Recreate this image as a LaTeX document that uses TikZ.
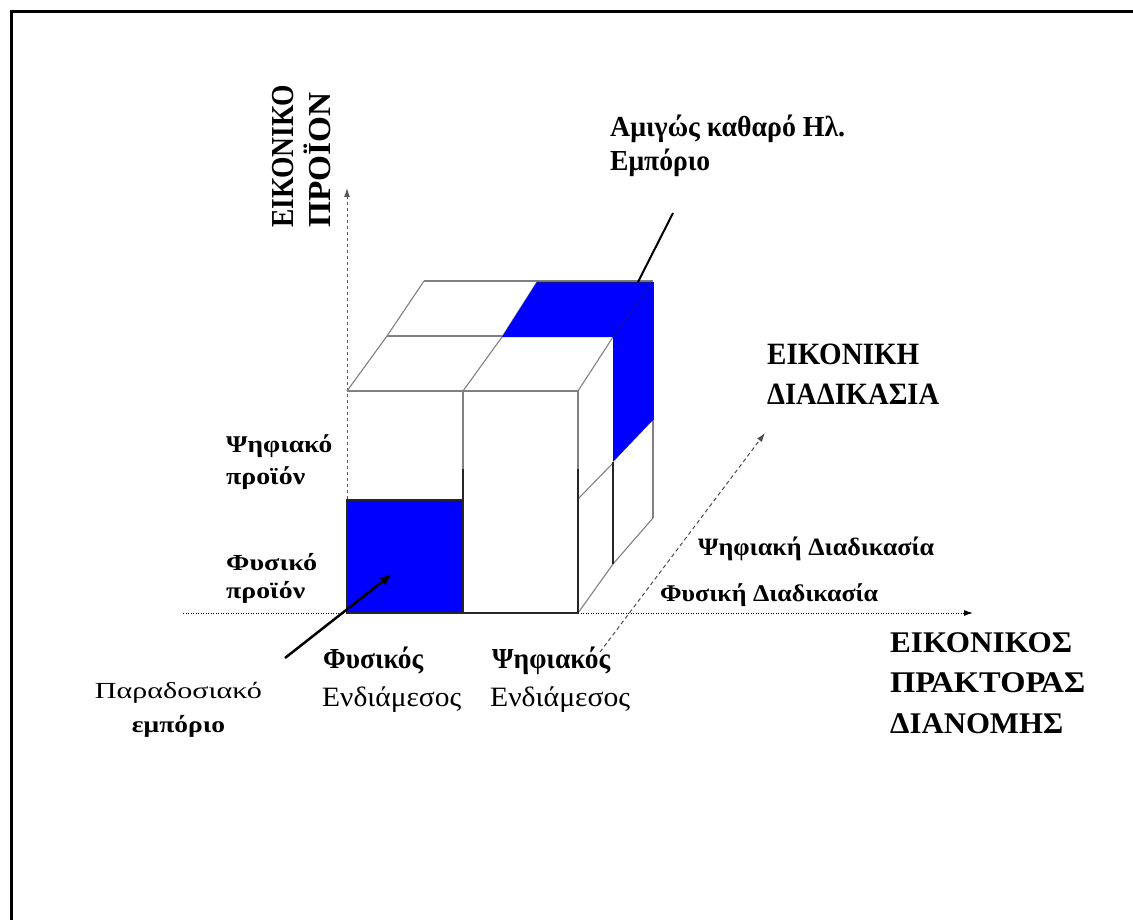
\documentclass[tikz,border=0pt]{standalone}
\usepackage{fontspec}
\setmainfont{Liberation Serif}
\usepackage{graphicx}
\usetikzlibrary{arrows.meta}
\newcommand\fitw[2]{\resizebox{#1pt}{\height}{#2}}
\definecolor{cubeblue}{RGB}{0,0,255}
\definecolor{cubeedge}{RGB}{20,20,150}
\begin{document}
\begin{tikzpicture}[x=1pt,y=-1pt,
  lbl/.style={inner sep=0pt, anchor=base west},
  lblc/.style={inner sep=0pt, anchor=base},
  fBig/.style={font=\bfseries\fontsize{31}{36}\selectfont},
  fRot/.style={font=\bfseries\fontsize{32}{36}\selectfont},
  fAx/.style={font=\bfseries\fontsize{30}{36}\selectfont},
  fPure/.style={font=\bfseries\fontsize{29}{34}\selectfont},
  fProd/.style={font=\bfseries\fontsize{24}{28}\selectfont},
  fProdB/.style={font=\bfseries\fontsize{23}{28}\selectfont},
  fProc/.style={font=\bfseries\fontsize{25}{28}\selectfont},
  fProcB/.style={font=\bfseries\fontsize{24}{28}\selectfont},
  fInt/.style={font=\bfseries\fontsize{29}{34}\selectfont},
  fIntR/.style={font=\fontsize{28}{34}\selectfont},
  fTrad/.style={font=\fontsize{23}{28}\selectfont},
  fTradB/.style={font=\bfseries\fontsize{23}{28}\selectfont},
  lt/.style={draw=black!50, line width=1.1pt},
  dk/.style={draw=black!85, line width=1.4pt},
  axisdash/.style={draw=black!65, line width=1pt, dash pattern=on 3pt off 3pt, -{Latex[length=9pt,width=6pt]}},
  axisdot/.style={draw=black, line width=1pt, dash pattern=on 1pt off 1.5pt, -{Latex[length=9pt,width=6pt]}},
  axisdiag/.style={draw=black!70, line width=1pt, dash pattern=on 4pt off 3pt, -{Latex[length=9pt,width=6pt]}},
  pointer/.style={draw=black, line width=2.5pt, -{Latex[length=12pt,width=10pt]}},
  leader/.style={draw=black, line width=2pt}]
\useasboundingbox (0,0) rectangle (1133,920);
% frame
\draw[line width=3pt] (1133,11.5) -- (11.5,11.5) -- (11.5,920);

% axes
\coordinate (O) at (347,613);
\coordinate (yTip) at (347,188);
\coordinate (xStart) at (183,613);
\coordinate (xTip) at (973,613);
\coordinate (zStart) at (600,652);
\coordinate (zTip) at (765,433);
\draw[axisdash] (O) -- (yTip);
\draw[axisdot] (xStart) -- (xTip);
\draw[axisdiag] (zStart) -- (zTip);

% cube: light lines
\draw[lt] (424,281) -- (653,281);
\draw[lt] (387,336) -- (613,336);
\draw[lt] (347,391) -- (578,391);
\draw[lt] (347,391) -- (387,336) -- (424,281);
\draw[lt] (463,391) -- (502,337) -- (537,282);
\draw[lt] (578,391) -- (613,337) -- (653,282);
\draw[lt] (463,391) -- (463,469);
\draw[lt] (578,391) -- (578,469);
\draw[lt] (578,499) -- (613,463);
\draw[lt] (653,420) -- (653,518);
\draw[lt] (578,613) -- (613,564) -- (653,518);

% blue cells
\fill[cubeblue] (347,500) rectangle (463,613);
\fill[cubeblue] (502,337) -- (537,282) -- (653,282) -- (653,420) -- (613,462) -- (613,337) -- cycle;
\draw[draw=cubeedge, line width=0.9pt] (537,282) -- (653,282) -- (653,420);
\draw[draw=cubeedge, line width=0.7pt] (613,337) -- (653,282);

% cube: dark lines
\draw[dk] (463,469) -- (463,613);
\draw[dk] (578,469) -- (578,613);
\draw[dk] (613,462) -- (613,564);
\draw[dk] (347,613) -- (578,613);
\draw[dk] (347,500) rectangle (463,613);

% pointers
\coordinate (tradStart) at (285,658);
\coordinate (tradEnd) at (392,574);
\draw[pointer] (tradStart) -- (tradEnd);
\coordinate (pureStart) at (673,213);
\coordinate (pureEnd) at (638,282);
\draw[leader] (pureStart) -- (pureEnd);

% labels
\node[lbl, fPure] (pure1) at (610,137) {\fitw{235}{Αμιγώς καθαρό Ηλ.}};
\node[lbl, fPure] (pure2) at (610,170.5) {\fitw{100}{Εμπόριο}};

\node[lbl, fRot, rotate=90] (yax1) at (293,228) {\fitw{143}{ΕΙΚΟΝΙΚΟ}};
\node[lbl, fRot, rotate=90] (yax2) at (330,228) {\fitw{135}{ΠΡΟΪΟΝ}};

\node[lbl, fBig] (zax1) at (767,364) {\fitw{152}{ΕΙΚΟΝΙΚΗ}};
\node[lbl, fBig] (zax2) at (767,404) {\fitw{172}{ΔΙΑΔΙΚΑΣΙΑ}};

\node[lbl, fAx] (xax1) at (890,652) {\fitw{182}{ΕΙΚΟΝΙΚΟΣ}};
\node[lbl, fAx] (xax2) at (890,692) {\fitw{195}{ΠΡΑΚΤΟΡΑΣ}};
\node[lbl, fAx] (xax3) at (890,733) {\fitw{173}{ΔΙΑΝΟΜΗΣ}};

\node[lbl, fProd] (dp1) at (226,452.5) {\fitw{106}{Ψηφιακό}};
\node[lbl, fProd] (dp2) at (226,484) {\fitw{79}{προϊόν}};
\node[lbl, fProdB] (pp1) at (226,570) {\fitw{91}{Φυσικό}};
\node[lbl, fProdB] (pp2) at (226,598.5) {\fitw{79}{προϊόν}};

\node[lbl, fProc] (dproc) at (698,555) {\fitw{236}{Ψηφιακή Διαδικασία}};
\node[lbl, fProcB] (pproc) at (660,601.5) {\fitw{218}{Φυσική Διαδικασία}};

\node[lbl, fInt] (pi1) at (323,668) {\fitw{100}{Φυσικός}};
\node[lbl, fIntR] (pi2) at (322,706.5) {\fitw{139}{Ενδιάμεσος}};
\node[lbl, fInt] (di1) at (492,668) {\fitw{118}{Ψηφιακός}};
\node[lbl, fIntR] (di2) at (490,706.5) {\fitw{140}{Ενδιάμεσος}};

\node[lblc, fTrad] (trad1) at (178.5,698) {\fitw{167}{Παραδοσιακό}};
\node[lblc, fTradB] (trad2) at (178.5,732.5) {\fitw{93}{εμπόριο}};
\end{tikzpicture}
\end{document}
